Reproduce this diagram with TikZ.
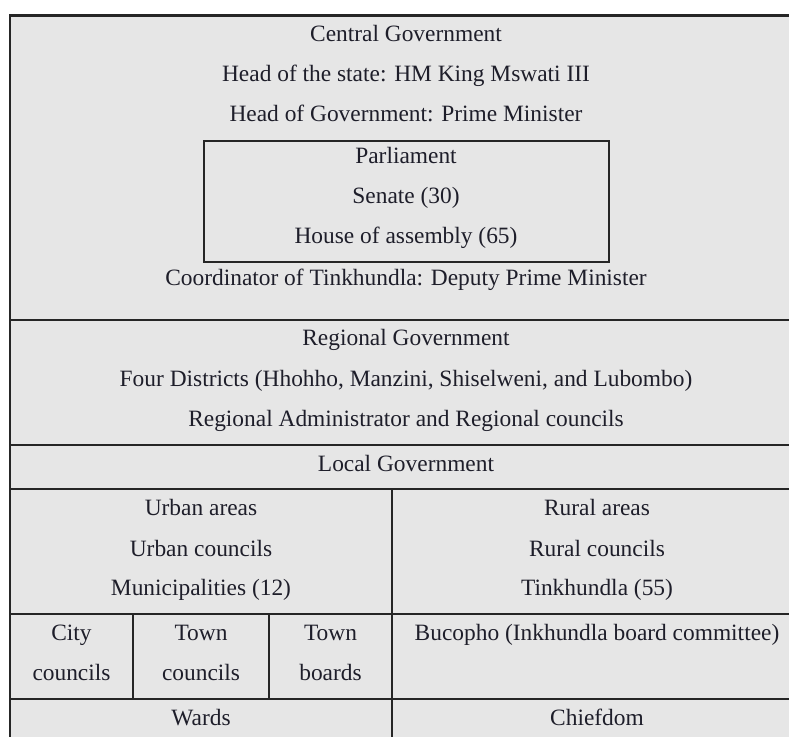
\documentclass[tikz,border=0pt]{standalone}
\usepackage{fontspec}
\setmainfont{Liberation Serif}
\definecolor{cellfill}{HTML}{E6E6E6}
\definecolor{rule}{HTML}{262626}
\definecolor{txtc}{HTML}{1E1E2A}
\begin{document}
\begin{tikzpicture}[x=1pt,y=-1pt,
  txt/.style={inner sep=0pt, anchor=base, font=\fontsize{23.4}{26}\selectfont, text=txtc},
  rl/.style={draw=rule, line width=2.2pt},
  box/.style={draw=rule, line width=2.2pt}]
\useasboundingbox (0,0) rectangle (789,737);
\begin{scope}
\clip (0,0) rectangle (789,737);
\fill[cellfill] (10,15) rectangle (802,737);
% borders
\draw[draw=rule, line width=3pt] (9,15) -- (802,15);
\draw[rl] (10,15) -- (10,737);
\draw[rl] (10,320) -- (802,320);
\draw[rl] (10,445) -- (802,445);
\draw[rl] (10,489) -- (802,489);
\draw[rl] (10,614) -- (802,614);
\draw[rl] (10,699) -- (802,699);
\draw[rl] (392,489) -- (392,737);
\draw[rl] (133,614) -- (133,699);
\draw[rl] (269,614) -- (269,699);
\draw[box] (204,141) rectangle (609,262);
\end{scope}
% central
\node[txt] (cg) at (406,41) {Central Government};
\node[txt] (hs) at (406,81) {Head of the state: HM King Mswati III};
\node[txt] (hg) at (406,121) {Head of Government: Prime Minister};
\node[txt] (pa) at (406,163) {Parliament};
\node[txt] (se) at (406,203) {Senate (30)};
\node[txt] (ho) at (406,243) {House of assembly (65)};
\node[txt] (co) at (406,285) {Coordinator of Tinkhundla: Deputy Prime Minister};
% regional
\node[txt] (rg) at (406,345) {Regional Government};
\node[txt] (fd) at (406,386) {Four Districts (Hhohho, Manzini, Shiselweni, and Lubombo)};
\node[txt] (ra) at (406,426) {Regional Administrator and Regional councils};
% local
\node[txt] (lg) at (406,471) {Local Government};
\node[txt] (ua) at (201,515) {Urban areas};
\node[txt] (uc) at (201,556) {Urban councils};
\node[txt] (mu) at (201,595) {Municipalities (12)};
\node[txt] (rua) at (597,515) {Rural areas};
\node[txt] (ruc) at (597,556) {Rural councils};
\node[txt] (ti) at (597,595) {Tinkhundla (55)};
\node[txt] (cc1) at (71.5,640) {City};
\node[txt] (cc2) at (71.5,680) {councils};
\node[txt] (tc1) at (201,640) {Town};
\node[txt] (tc2) at (201,680) {councils};
\node[txt] (tb1) at (330.5,640) {Town};
\node[txt] (tb2) at (330.5,680) {boards};
\node[txt] (bu) at (597,640) {Bucopho (Inkhundla board committee)};
\node[txt] (wa) at (201,725) {Wards};
\node[txt] (ch) at (597,725) {Chiefdom};
\end{tikzpicture}
\end{document}
